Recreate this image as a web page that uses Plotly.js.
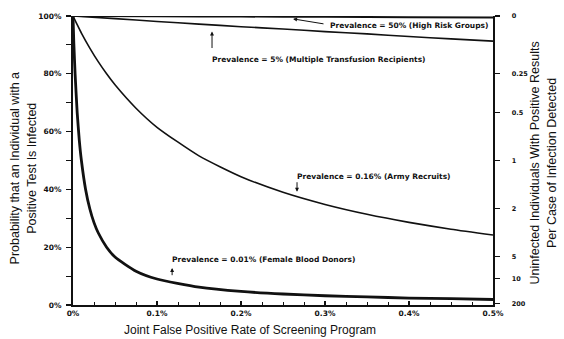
<!DOCTYPE html>
<html>
<head>
<meta charset="utf-8">
<script src="https://cdn.plot.ly/plotly-3.0.1.min.js"></script>
<style>
  html, body { margin: 0; padding: 0; background: #fff; }
  #chart { width: 564px; height: 339px; }
</style>
</head>
<body>
<div id="chart"></div>
<script>
// ---- Data ----
// x values: joint false positive rate, in percent
var fpr50 = [0, 0.1, 0.2, 0.3, 0.4, 0.5];
var ppv50 = [100, 99.9, 99.8, 99.7, 99.6, 99.5];

var fpr5 = [0, 0.05, 0.1, 0.15, 0.2, 0.25, 0.3, 0.35, 0.4, 0.45, 0.5];
var ppv5 = [100, 99.1, 98.1, 97.2, 96.3, 95.5, 94.6, 93.8, 92.9, 92.1, 91.3];

var fprArmy = [0, 0.0025, 0.005, 0.01, 0.02, 0.03, 0.04, 0.05, 0.075, 0.1, 0.15, 0.2, 0.25, 0.3, 0.35, 0.4, 0.45, 0.5];
var ppvArmy = [100, 98.5, 97.0, 94.1, 88.9, 84.2, 80.0, 76.2, 68.1, 61.5, 51.6, 44.4, 39.0, 34.8, 31.4, 28.6, 26.2, 24.2];

var fprDonor = [0, 0.001, 0.0025, 0.005, 0.0075, 0.01, 0.015, 0.02, 0.025, 0.03, 0.04, 0.05, 0.075, 0.1, 0.15, 0.2, 0.25, 0.3, 0.35, 0.4, 0.45, 0.5];
var ppvDonor = [100, 90.5, 80, 66.5, 57, 50, 40, 33.3, 28.5, 25, 20, 16.6, 11.7, 9.0, 6.2, 4.7, 3.8, 3.2, 2.8, 2.4, 2.2, 1.9];

var xTickVals = [0, 0.1, 0.2, 0.3, 0.4, 0.5];
var xTickText = ["0%", "0.1%", "0.2%", "0.3%", "0.4%", "0.5%"];
var yTickVals = [0, 20, 40, 60, 80, 100];
var yTickText = ["0%", "20%", "40%", "60%", "80%", "100%"];
var rightTickText = ["0", "0.25", "0.5", "1", "2", "5", "10", "200"];
var rightRatios = [0, 0.25, 0.5, 1, 2, 5, 10, 200];

var labels = {
  p50: "Prevalence = 50% (High Risk Groups)",
  p5: "Prevalence = 5% (Multiple Transfusion Recipients)",
  army: "Prevalence = 0.16% (Army Recruits)",
  donor: "Prevalence = 0.01% (Female Blood Donors)"
};

// ---- Chart ----
var FONT = "Liberation Sans, Arial, Helvetica, sans-serif";
var BOLD = "DejaVu Sans, Liberation Sans, Arial, sans-serif";
var INK = "#111111";
var tickFont = { family: BOLD, size: 7.5, color: INK, weight: 700 };
var rightTickFont = { family: BOLD, size: 6.5, color: INK, weight: 700 };
var noteFont = { family: BOLD, size: 7.5, color: INK, weight: 700 };

function line(x, y, w) {
  return { x: x, y: y, type: "scatter", mode: "lines",
           line: { color: INK, width: w, shape: "spline", smoothing: 0.6 },
           hoverinfo: "skip", showlegend: false };
}

var traces = [
  line(fpr50, ppv50, 2),
  line(fpr5, ppv5, 1.6),
  line(fprArmy, ppvArmy, 1.6),
  line(fprDonor, ppvDonor, 2.8)
];
// invisible trace to activate right axis
traces.push({ x: [0], y: [0], yaxis: "y2", type: "scatter", mode: "markers",
              marker: { opacity: 0 }, hoverinfo: "skip", showlegend: false });

// right axis positions: probability corresponding to each ratio
var rightTickVals = rightRatios.map(function (r) { return 100 / (1 + r); });

function textNote(x, y, t) {
  return { x: x, y: y, xref: "x", yref: "y", text: t, showarrow: false,
           xanchor: "left", yanchor: "middle", font: noteFont };
}
function arrowNote(x, y, ax, ay) {
  return { x: x, y: y, ax: ax, ay: ay, xref: "x", yref: "y", axref: "x", ayref: "y",
           text: "", showarrow: true, arrowhead: 2, arrowsize: 0.8, arrowwidth: 1,
           arrowcolor: INK, standoff: 0, startstandoff: 0 };
}

var annotations = [
  textNote(0.3036, 96.7, labels.p50),
  arrowNote(0.262, 99.0, 0.300, 97.2),
  textNote(0.163, 85.1, labels.p5),
  arrowNote(0.1655, 94.6, 0.1655, 88.4),
  textNote(0.264, 44.6, labels.army),
  arrowNote(0.2667, 39.2, 0.2667, 43.0),
  textNote(0.1155, 15.6, labels.donor),
  arrowNote(0.118, 12.8, 0.118, 9.8),
  { xref: "paper", yref: "paper", x: 0.421, y: -0.088, showarrow: false,
    text: "Joint False Positive Rate of Screening Program",
    font: { family: FONT, size: 12, color: INK }, xanchor: "center", yanchor: "middle" },
  { xref: "paper", yref: "paper", x: -0.118, y: 0.474, showarrow: false, textangle: -90,
    text: "Probability that an Individual with a<br>Positive Test Is Infected",
    font: { family: FONT, size: 12.5, color: INK }, xanchor: "center", yanchor: "middle" },
  { xref: "paper", yref: "paper", x: 1.12, y: 0.491, showarrow: false, textangle: -90,
    text: "Uninfected Individuals With Positive Results<br>Per Case of Infection Detected",
    font: { family: FONT, size: 12.5, color: INK }, xanchor: "center", yanchor: "middle" }
];

var layout = {
  width: 564, height: 339,
  margin: { l: 73, r: 71, t: 16, b: 34, pad: 0 },
  paper_bgcolor: "#ffffff", plot_bgcolor: "#ffffff",
  showlegend: false,
  xaxis: {
    range: [0, 0.5], showgrid: false, zeroline: false,
    showline: true, linecolor: INK, linewidth: 1.5,
    tickvals: xTickVals, ticktext: xTickText, tickfont: tickFont,
    ticks: "inside", ticklen: 4, tickcolor: INK, tickwidth: 1.2,
    minor: { dtick: 0.025, ticks: "inside", ticklen: 3, tickcolor: INK, tickwidth: 1 },
    fixedrange: true
  },
  yaxis: {
    range: [0, 100], showgrid: false, zeroline: false,
    showline: true, linecolor: INK, linewidth: 2,
    tickvals: yTickVals, ticktext: yTickText, tickfont: tickFont,
    ticks: "outside", ticklen: 5, tickcolor: INK, tickwidth: 1.2,
    ticklabelstandoff: 3,
    minor: { dtick: 10, ticks: "outside", ticklen: 5, tickcolor: INK, tickwidth: 1 },
    fixedrange: true
  },
  yaxis2: {
    overlaying: "y", side: "right", range: [0, 100],
    showgrid: false, zeroline: false,
    showline: true, linecolor: INK, linewidth: 1.5,
    tickvals: rightTickVals, ticktext: rightTickText, tickfont: rightTickFont,
    ticks: "outside", ticklen: 5, tickcolor: INK, tickwidth: 1.2,
    ticklabelstandoff: 11,
    fixedrange: true
  },
  annotations: annotations
};

Plotly.newPlot("chart", traces, layout, { staticPlot: true, displayModeBar: false });
</script>
</body>
</html>
